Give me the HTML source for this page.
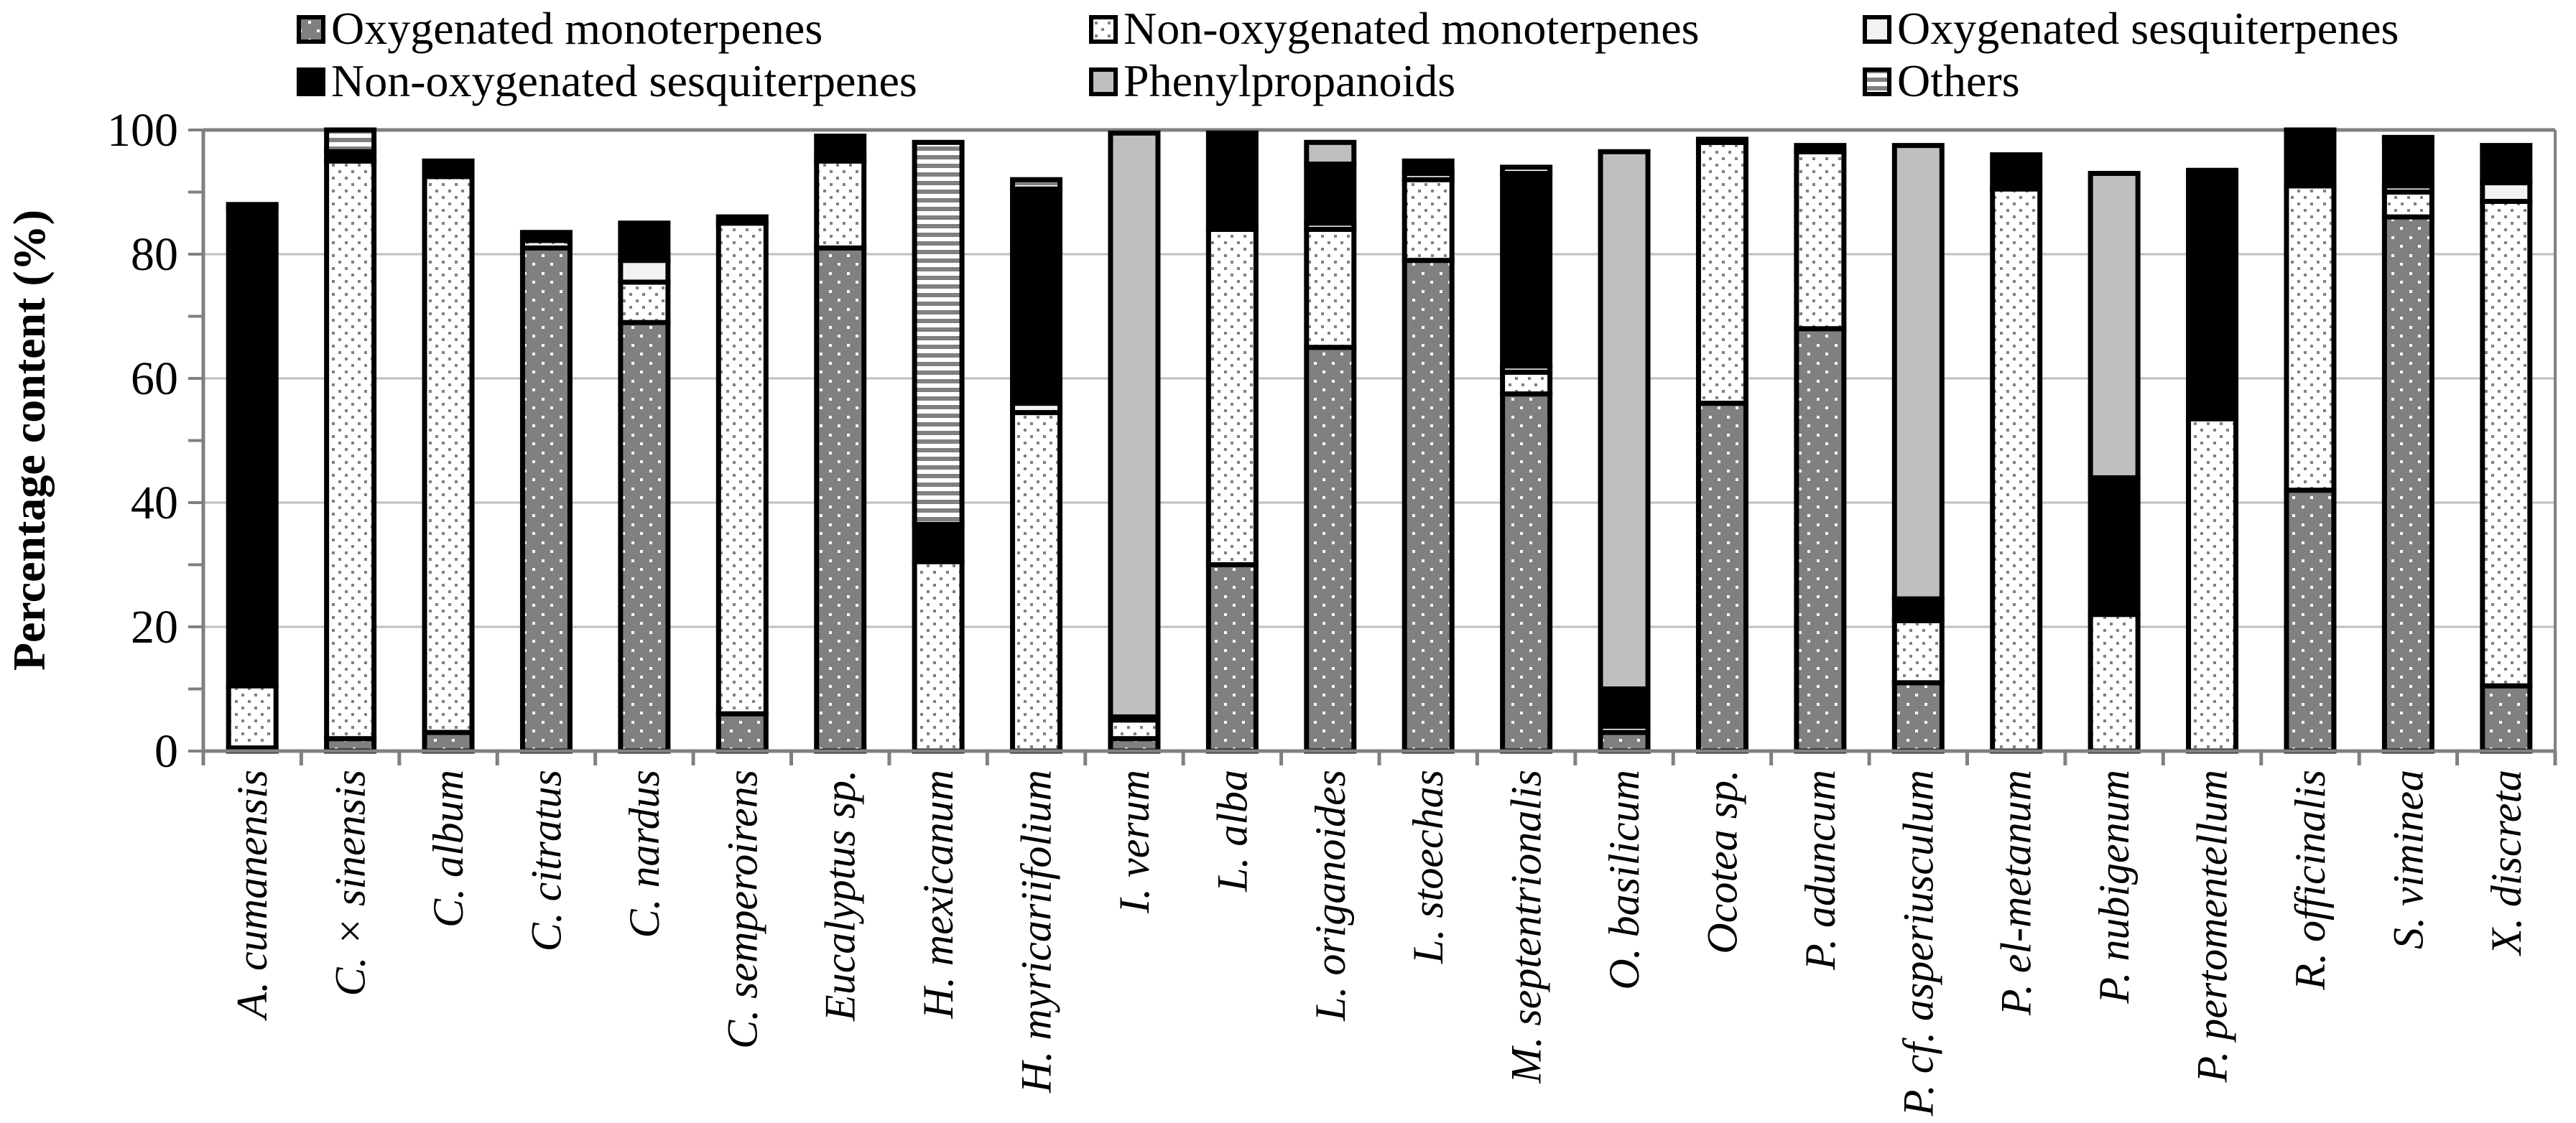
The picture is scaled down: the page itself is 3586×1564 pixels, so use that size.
<!DOCTYPE html>
<html><head><meta charset="utf-8"><style>
html,body{margin:0;padding:0;background:#fff;}
svg{display:block;}
svg text{font-family:"Liberation Serif","DejaVu Serif",serif;fill:#000;}
</style></head><body>
<svg id="chart" width="3586" height="1564" viewBox="0 0 3586 1564" xmlns="http://www.w3.org/2000/svg" font-family="Liberation Serif, serif">
<defs>
<pattern id="pOM" width="25" height="25" patternUnits="userSpaceOnUse">
<rect width="25" height="25" fill="#808080"/><rect x="4" y="4" width="4" height="4" fill="#fff"/><rect x="16" y="16" width="4" height="4" fill="#fff"/></pattern>
<pattern id="pNOM" width="18" height="18" patternUnits="userSpaceOnUse">
<rect width="18" height="18" fill="#fff"/><rect x="3" y="3" width="4" height="4" fill="#808080"/><rect x="12" y="12" width="4" height="4" fill="#808080"/></pattern>
<pattern id="pOTH" width="10" height="12" patternUnits="userSpaceOnUse">
<rect width="10" height="12" fill="#fff"/><rect y="0" width="10" height="6" fill="#808080"/></pattern>
</defs>
<g id="legend"></g>
<g id="grid"></g>
<g id="bars"></g>
<g id="axes"></g>
<text font-family="Liberation Serif, serif" transform="translate(62,613) rotate(-90)" text-anchor="middle" font-size="64" font-weight="bold">Percentage content  (%)</text>
</svg>
<script>
const categories=["A. cumanensis","C. × sinensis","C. album","C. citratus","C. nardus","C. semperoirens","Eucalyptus sp.","H. mexicanum","H. myricariifolium","I. verum","L. alba","L. origanoides","L. stoechas","M. septentrionalis","O. basilicum","Ocotea sp.","P. aduncum","P. cf. asperiusculum","P. el-metanum","P. nubigenum","P. pertomentellum","R. officinalis","S. viminea","X. discreta"];
const oxyMono=[0.5,2,3,81,69,6,81,0,0,2,30,65,79,57.5,3,56,68,11,0,0,0,42,86,10.5];
const nonOxyMono=[10,93,89.5,1.2,6.5,79,14,30.5,54.5,3,54,19,13,3.5,1,42,28.5,10,90.5,22,53.5,49,4,78];
const oxySesq=[0,0,0,0,3.5,0,0,0,1.5,0,0,1,1,1,0,0,0,0,0,0,0,0,1,3];
const nonOxySesq=[77,1.5,2.5,1.3,6,1,4,6,34.5,0.5,15.5,9.5,2,31,6,0.5,1,3.5,5.5,22,40,9,7.5,6];
const phenyl=[0.5,0,0,0,0,0,0,0,0,94,0,3.5,0,0,86.5,0,0,73,0,49,0,0,0.3,0];
const others=[0,3.5,0,0,0,0,0,61.5,1.5,0,0,0,0,1,0,0,0,0,0,0,0,0,0,0];
const yTicks=[0,20,40,60,80,100];
const seriesNames=["Oxygenated monoterpenes","Non-oxygenated monoterpenes","Oxygenated sesquiterpenes","Non-oxygenated sesquiterpenes","Phenylpropanoids","Others"];

const NS="http://www.w3.org/2000/svg";
const FF="Liberation Serif, DejaVu Serif, serif";
const X0=283,X1=3557,Y0=1046,Y100=181;
const bandW=(X1-X0)/categories.length;
const yS=v=>Y0-(v/100)*(Y0-Y100);
const xC=i=>X0+bandW*(i+0.5);
const fills=["url(#pOM)","url(#pNOM)","#f2f2f2","#000","#bfbfbf","url(#pOTH)"];
const series=[oxyMono,nonOxyMono,oxySesq,nonOxySesq,phenyl,others];
const keys=["oxy-mono","non-oxy-mono","oxy-sesq","non-oxy-sesq","phenylpropanoid","others"];
function el(t,a,p){const e=document.createElementNS(NS,t);for(const k in a)e.setAttribute(k,a[k]);if(t==='text')e.setAttribute('font-family',FF);p.appendChild(e);return e;}
const grid=document.getElementById('grid'),bars=document.getElementById('bars'),axes=document.getElementById('axes'),legend=document.getElementById('legend');
yTicks.forEach(v=>{
  if(v>0){const g=el('line',{x1:X0,x2:X1,y1:yS(v),y2:yS(v),stroke:v===100?'#808080':'#bfbfbf','stroke-width':v===100?5:3},grid);
  
  }
  const t=el('text',{x:248,y:yS(v)+22,'text-anchor':'end','font-size':66},axes);
  t.textContent=v;
  
  
});
for(let v=0;v<=100;v+=10){el('line',{x1:262,x2:X0,y1:yS(v),y2:yS(v),stroke:'#808080','stroke-width':4},axes);}
el('line',{x1:X0,x2:X0,y1:Y100,y2:Y0,stroke:'#808080','stroke-width':5},axes);
el('line',{x1:X1,x2:X1,y1:Y100,y2:Y0,stroke:'#808080','stroke-width':4},axes);
el('line',{x1:X0,x2:X1,y1:Y0,y2:Y0,stroke:'#808080','stroke-width':5},axes);
for(let i=0;i<=categories.length;i++){el('line',{x1:X0+bandW*i,x2:X0+bandW*i,y1:Y0,y2:Y0+20,stroke:'#808080','stroke-width':5},axes);}
const bw=66;
categories.forEach((c,i)=>{
  let cum=0;
  const g=el('g',{},bars);
  
  
  series.forEach((s,k)=>{
    const v=s[i]; if(v<=0)return;
    const y1=yS(cum+v),y2=yS(cum);
    const r=el('rect',{x:xC(i)-bw/2,y:y1,width:bw,height:Math.max(y2-y1,0.5),fill:fills[k],stroke:'#000','stroke-width':7},g);
    
    
    cum+=v;
  });
  const t=el('text',{transform:`translate(${xC(i)+20},1072) rotate(-90)`,'text-anchor':'end','font-size':60,'font-style':'italic'},axes);
  t.textContent=c;
  
  
});
const lx=[413,1516,2593],ly=[41,114];
seriesNames.forEach((n,k)=>{
  const x=lx[k%3],y=ly[Math.floor(k/3)];
  const g=el('g',{},legend);
  
  
  el('rect',{x:x+3,y:y-17,width:34,height:34,fill:fills[k],stroke:'#000','stroke-width':6},g);
  const t=el('text',{x:x+48,y:y+20,'font-size':64},g);
  t.textContent=n;
});
</script>
</body></html>
